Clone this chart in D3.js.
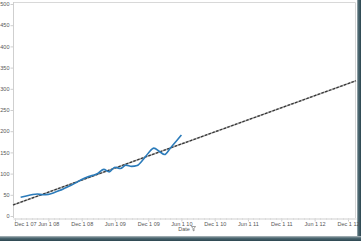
<!DOCTYPE html>
<html>
<head>
<meta charset="utf-8">
<script src="https://cdn.jsdelivr.net/npm/d3@7"></script>
<style>
  body { margin: 0; background: #fff; }
  svg { display: block; font-family: "Liberation Sans", Arial, sans-serif; }
</style>
</head>
<body>
<div id="chart"></div>
<script>
// monthly values, Jan 2008 .. Jun 2010
const months = ["2008-01", "2008-02", "2008-03", "2008-04", "2008-05", "2008-06",
    "2008-07", "2008-08", "2008-09", "2008-10", "2008-11", "2008-12",
    "2009-01", "2009-02", "2009-03", "2009-04", "2009-05", "2009-06",
    "2009-07", "2009-08", "2009-09", "2009-10", "2009-11", "2009-12",
    "2010-01", "2010-02", "2010-03", "2010-04", "2010-05", "2010-06"];
const values = [44, 47, 50, 52, 50, 51, 55, 60, 66, 72, 79, 86,
    92, 96, 101, 110, 104, 115, 112, 120, 117, 119, 132, 148,
    160, 152, 145, 160, 175, 191];

// dashed trend line end points
const trendDates = ["2007-11-20", "2013-01-14"];
const trendValues = [26, 319];

const xTickDates = ["2007-12-01", "2008-06-01", "2008-12-01", "2009-06-01",
    "2009-12-01", "2010-06-01", "2010-12-01", "2011-06-01", "2011-12-01",
    "2012-06-01", "2012-12-01"];
const yTicks = [0, 50, 100, 150, 200, 250, 300, 350, 400, 450, 500];

const W = 361, H = 241;
const plot = { left: 13, right: 356, top: 2, bottom: 218 };

const parse = d3.timeParse("%Y-%m-%d");
const parseMonth = d3.timeParse("%Y-%m");

const x = d3.scaleTime()
    .domain([parse("2007-11-20"), parse("2013-01-14")])
    .range([plot.left, plot.right]);

const y = d3.scaleLinear()
    .domain([0, 500])
    .range([216, 4]);

const svg = d3.select("#chart")
    .append("svg")
    .attr("width", W)
    .attr("height", H);

// window shadow at the right and bottom
const defs = svg.append("defs");
const gRight = defs.append("linearGradient").attr("id", "shRight")
    .attr("x1", 0).attr("x2", 1).attr("y1", 0).attr("y2", 0);
gRight.append("stop").attr("offset", 0).attr("stop-color", "#a7b3b7");
gRight.append("stop").attr("offset", 0.35).attr("stop-color", "#4f6a73");
gRight.append("stop").attr("offset", 1).attr("stop-color", "#2c4650");
const gBottom = defs.append("linearGradient").attr("id", "shBottom")
    .attr("x1", 0).attr("x2", 0).attr("y1", 0).attr("y2", 1);
gBottom.append("stop").attr("offset", 0).attr("stop-color", "#b5bfc2");
gBottom.append("stop").attr("offset", 0.4).attr("stop-color", "#4f6a73");
gBottom.append("stop").attr("offset", 1).attr("stop-color", "#2c4650");

svg.append("rect")
    .attr("x", 357).attr("y", 0)
    .attr("width", 4).attr("height", H)
    .attr("fill", "url(#shRight)");
svg.append("rect")
    .attr("x", 0).attr("y", 236)
    .attr("width", W).attr("height", 5)
    .attr("fill", "url(#shBottom)");

// frame top / right
svg.append("path")
    .attr("d", "M" + plot.left + "," + (plot.top + 0.5) + "H" + (plot.right - 0.5) + "V" + plot.bottom)
    .attr("fill", "none")
    .attr("stroke", "#d8d8d8")
    .attr("stroke-width", 1);

// x axis
const xAxis = d3.axisBottom(x)
    .tickValues(xTickDates.map(parse))
    .tickFormat(d3.timeFormat("%b %-d %y"))
    .tickSize(3)
    .tickSizeOuter(0);

const gx = svg.append("g")
    .attr("transform", "translate(0," + (plot.bottom + 0.5) + ")")
    .call(xAxis);
gx.select(".domain").attr("stroke", "#cfcfcf");
gx.selectAll(".tick line").attr("stroke", "#cfcfcf");
gx.selectAll(".tick text")
    .attr("y", 3.5)
    .attr("font-size", 5.5)
    .attr("font-family", "Liberation Sans, Arial, sans-serif")
    .attr("fill", "#555");
gx.select(".tick text").attr("text-anchor", "start").attr("x", -1);

// monthly minor ticks
svg.append("g")
    .selectAll("line")
    .data(d3.timeMonth.range(parse("2007-12-01"), parse("2013-01-01")))
    .join("line")
    .attr("x1", d => Math.round(x(d)) + 0.5)
    .attr("x2", d => Math.round(x(d)) + 0.5)
    .attr("y1", plot.bottom)
    .attr("y2", plot.bottom + 2)
    .attr("stroke", "#dcdcdc");

// y axis
const yAxis = d3.axisLeft(y)
    .tickValues(yTicks)
    .tickSize(3)
    .tickSizeOuter(0);

const gy = svg.append("g")
    .attr("transform", "translate(" + (plot.left + 0.5) + ",0)")
    .call(yAxis);
gy.select(".domain")
    .attr("d", "M0," + plot.top + "V" + plot.bottom)
    .attr("stroke", "#cfcfcf");
gy.selectAll(".tick line").attr("stroke", "#cfcfcf");
gy.selectAll(".tick text")
    .attr("x", -4)
    .attr("font-size", 5.5)
    .attr("font-family", "Liberation Sans, Arial, sans-serif")
    .attr("fill", "#555");

// axis title
svg.append("text")
    .attr("x", 184)
    .attr("y", 231)
    .attr("text-anchor", "middle")
    .attr("font-size", 5.5)
    .attr("fill", "#555")
    .text("Date");
svg.append("path")
    .attr("d", "M191.5,226.5h4l-1.5,2v2.5l-1,-0.6v-1.9z")
    .attr("fill", "none")
    .attr("stroke", "#777")
    .attr("stroke-width", 0.7);

// trend line
const trend = trendDates.map((d, i) => ({ date: parse(d), value: trendValues[i] }));
const trendLine = d3.line()
    .x(d => x(d.date))
    .y(d => y(d.value));

svg.append("path")
    .datum(trend)
    .attr("d", trendLine)
    .attr("fill", "none")
    .attr("stroke", "#aaa")
    .attr("stroke-width", 1.6);
svg.append("path")
    .datum(trend)
    .attr("d", trendLine)
    .attr("fill", "none")
    .attr("stroke", "#333")
    .attr("stroke-width", 1.2)
    .attr("stroke-dasharray", "2.5,1.5");

// series
const series = months.map((m, i) => ({ date: parseMonth(m), value: values[i] }));

svg.append("path")
    .datum(series)
    .attr("d", d3.line()
        .x(d => x(d.date))
        .y(d => y(d.value))
        .curve(d3.curveMonotoneX))
    .attr("fill", "none")
    .attr("stroke", "#2b7bba")
    .attr("stroke-width", 1.6)
    .attr("stroke-linejoin", "round");
</script>
</body>
</html>
